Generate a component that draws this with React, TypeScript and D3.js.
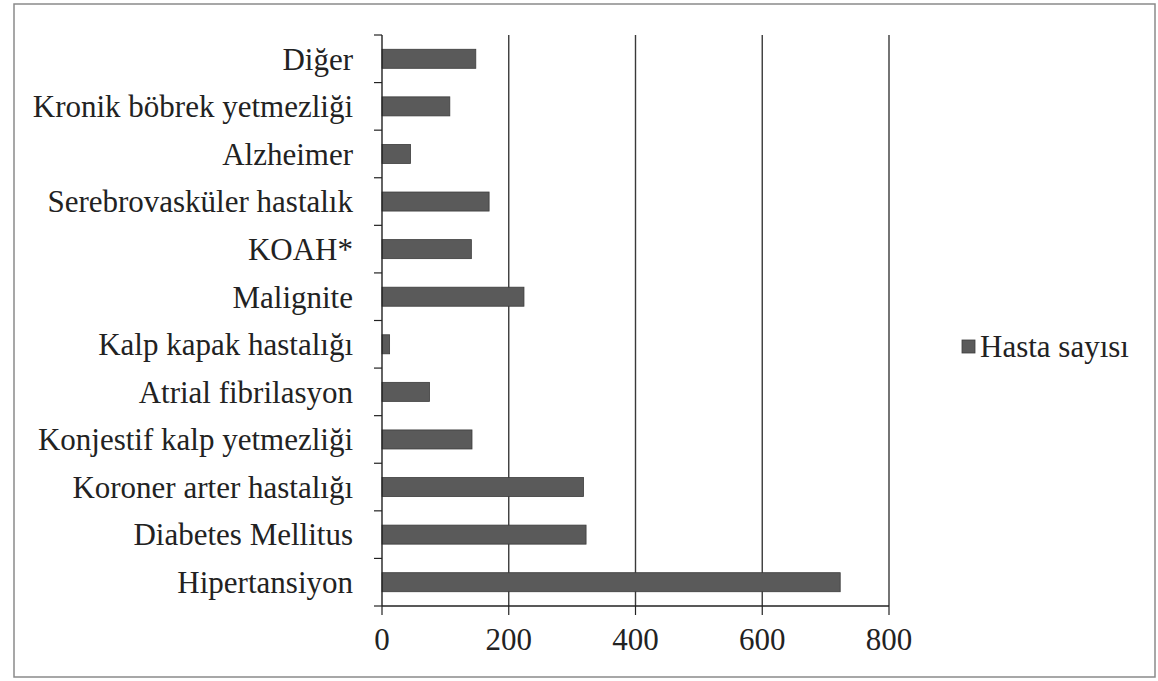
import React from 'react';
import * as d3 from 'd3';

// values (top to bottom)
const categories = [
  'Diğer',
  'Kronik böbrek yetmezliği',
  'Alzheimer',
  'Serebrovasküler hastalık',
  'KOAH*',
  'Malignite',
  'Kalp kapak hastalığı',
  'Atrial fibrilasyon',
  'Konjestif kalp yetmezliği',
  'Koroner arter hastalığı',
  'Diabetes Mellitus',
  'Hipertansiyon',
];
const hastaSayisi = [148, 107, 45, 169, 141, 224, 12, 75, 142, 318, 322, 723];
const xTicks = [0, 200, 400, 600, 800];
const seriesName = 'Hasta sayısı';

const W = 1158;
const H = 681;
const left = 382;
const right = 889;
const top = 35;
const bottom = 606;
const font = 'Liberation Serif, Tinos, DejaVu Serif, serif';

const App: React.FC = () => {
  const x = d3.scaleLinear().domain([0, 800]).range([left, right]);
  const y = d3.scaleBand<string>().domain(categories).range([top, bottom]).paddingInner(0.6).paddingOuter(0.3);
  const band = (bottom - top) / categories.length;
  const bounds = d3.range(categories.length + 1).map(i => top + i * band);
  const txt = { fontFamily: font, fontSize: 31, fill: '#222' };

  return (
    <svg width={W} height={H} style={{ position: 'absolute', left: 0, top: 0, background: '#fff' }}>
      <rect x={14} y={4} width={1141} height={673} fill="none" stroke="#8a8a8a" strokeWidth={1.5} />

      {/* gridlines */}
      {xTicks.slice(1).map(t => (
        <line key={t} x1={x(t)} x2={x(t)} y1={top} y2={bottom} stroke="#3a3a3a" strokeWidth={1.4} />
      ))}

      {/* bars */}
      {categories.map((c, i) => (
        <rect key={c} x={x(0)} y={y(c)!} width={x(hastaSayisi[i]) - x(0)} height={y.bandwidth()}
          fill="#5a5a5a" stroke="#3c3c3c" strokeWidth={0.8} />
      ))}

      {/* y axis */}
      <line x1={left} x2={left} y1={top} y2={bottom} stroke="#222" strokeWidth={1.4} />
      {bounds.map((b, i) => (
        <line key={i} x1={left - 8} x2={left} y1={b} y2={b} stroke="#222" strokeWidth={1.2} />
      ))}
      {categories.map(c => (
        <text key={c} x={353} y={y(c)! + y.bandwidth() / 2} dy="0.35em" textAnchor="end" style={txt}>{c}</text>
      ))}

      {/* x axis */}
      <line x1={left} x2={right} y1={bottom} y2={bottom} stroke="#222" strokeWidth={1.4} />
      {xTicks.map(t => (
        <g key={t}>
          <line x1={x(t)} x2={x(t)} y1={bottom} y2={bottom + 9} stroke="#222" strokeWidth={1.2} />
          <text x={x(t)} y={bottom + 44} textAnchor="middle" style={txt}>{t}</text>
        </g>
      ))}

      {/* legend */}
      <rect x={962} y={340} width={13} height={13} fill="#5a5a5a" stroke="#3c3c3c" strokeWidth={0.8} />
      <text x={980} y={346} dy="0.35em" style={txt}>{seriesName}</text>
    </svg>
  );
};

export default App;
